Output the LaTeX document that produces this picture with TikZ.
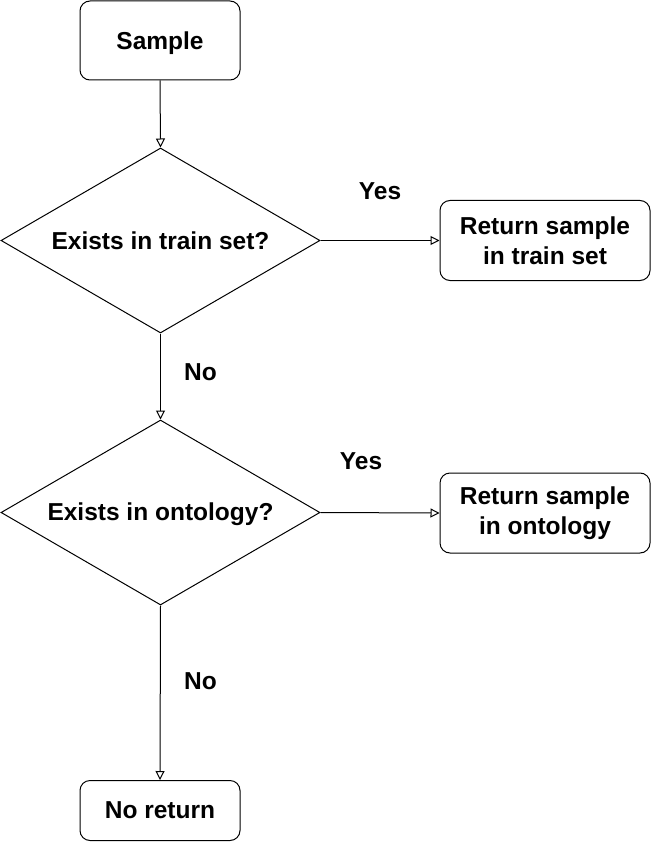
\documentclass[tikz,border=0pt]{standalone}
\usepackage{fontspec}
\setmainfont{Liberation Sans}
\usetikzlibrary{arrows.meta,shapes.geometric}
\begin{document}
\begin{tikzpicture}[x=1pt,y=-1pt,
  every node/.style={font=\fontsize{24.5}{30}\selectfont\bfseries},
  box/.style={draw, line width=1pt, rounded corners=10pt, align=center, inner sep=0pt},
  dia/.style={draw, line width=1pt, diamond, aspect=1.73, minimum width=319pt, minimum height=185pt, inner sep=0pt},
  lbl/.style={inner sep=0pt},
  arr/.style={line width=1pt, -{Triangle[open,length=9pt,width=9pt]}}]
\useasboundingbox (0,0) rectangle (652,842);
\node[box, minimum width=160pt, minimum height=79pt, text depth=0pt] (sample) at (160,40.5) {Sample};
\node[dia] (d1) at (160.5,240.5) {Exists in train set?};
\node[box, minimum width=210pt, minimum height=80pt] (r1) at (545,240.5) {Return sample\\in train set};
\node[dia, text depth=2pt] (d2) at (160.5,512.5) {Exists in ontology?};
\node[box, minimum width=210pt, minimum height=80pt] (r2) at (545,513) {Return sample\\in ontology};
\node[box, minimum width=160pt, minimum height=60pt] (nr) at (160,810.5) {No return};
\node[lbl] (y1) at (380,191) {Yes};
\node[lbl] (y2) at (361,461) {Yes};
\node[lbl] (n1) at (200.5,372) {No};
\node[lbl] (n2) at (200.5,681) {No};
\draw[arr] (sample.south) -- (d1.north);
\draw[arr] (d1.east) -- (r1.west);
\draw[arr] (d1.south) -- (d2.north);
\draw[arr] (d2.east) -- (r2.west);
\draw[arr] (d2.south) -- (nr.north);
\end{tikzpicture}
\end{document}
